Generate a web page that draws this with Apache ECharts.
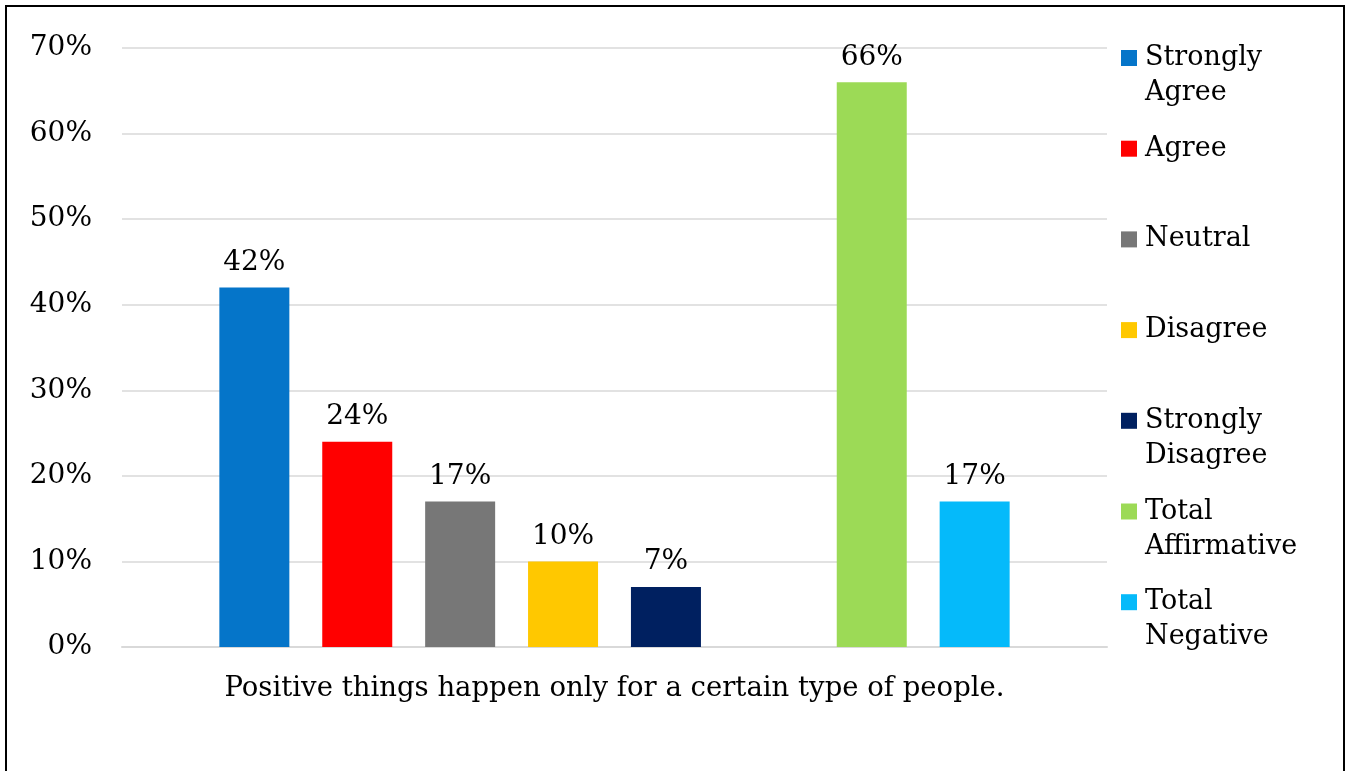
<!DOCTYPE html>
<html>
<head>
<meta charset="utf-8">
<style>
    html, body { margin: 0; padding: 0; overflow: hidden; background: #fff; }
</style>
</head>
<body>
<div id="bar" style="width:1347px; height:771px;"></div>
<script src="https://cdn.jsdelivr.net/npm/echarts@6/dist/echarts.min.js"></script>
<script>
    // data
    var question = ['Positive things happen only for a certain type of people.'];
    var seriesNames = ['Strongly Agree', 'Agree', 'Neutral', 'Disagree', 'Strongly Disagree', '', 'Total Affirmative', 'Total Negative'];
    var seriesValues = [42, 24, 17, 10, 7, null, 66, 17];
    var seriesColors = ['#0575c9', '#ff0000', '#777777', '#ffc800', '#002060', 'transparent', '#9cda56', '#05bafa'];
    var yTicks = [0, 10, 20, 30, 40, 50, 60, 70];

    var FONT = 'DejaVu Serif';
    var chart = echarts.init(document.getElementById('bar'), null, {renderer: 'canvas'});

    var series = seriesNames.map(function (name, i) {
        return {
            name: name || 'gap',
            type: 'bar',
            data: [seriesValues[i]],
            barWidth: 70,
            barGap: '47%',
            itemStyle: {color: seriesColors[i]},
            label: {
                show: seriesValues[i] != null,
                position: 'top',
                distance: 11,
                formatter: '{c}%',
                fontFamily: FONT,
                fontSize: 28,
                color: '#000'
            }
        };
    });

    // legend: one per item so the first lines are evenly spaced
    var rich = {
        t: {fontFamily: FONT, fontSize: 27, color: '#000', lineHeight: 35},
        gap: {width: 8, height: 16},
        sp: {width: 24, height: 16}
    };
    seriesColors.forEach(function (c, i) {
        rich['sq' + i] = {width: 16, height: 16, backgroundColor: c};
    });
    var legends = [];
    var k = 0;
    seriesNames.forEach(function (name, i) {
        if (!name) return;
        legends.push({
            data: [name],
            orient: 'vertical',
            left: 1116,
            top: 62 + k * 90.7 - 17.5,
            padding: 0,
            icon: 'none',
            itemWidth: 0,
            itemHeight: 16,
            selectedMode: false,
            textStyle: {rich: rich},
            formatter: function (n) {
                var parts = n.split(' ');
                var s = '{sq' + i + '|}{gap|}{t|' + parts[0] + '}';
                if (parts.length > 1) s += '\n{sp|}{t|' + parts.slice(1).join(' ') + '}';
                return s;
            }
        });
        k++;
    });

    chart.setOption({
        backgroundColor: '#fff',
        animation: false,
        grid: {left: 122, right: 240, top: 48, bottom: 124},
        legend: legends,
        xAxis: {
            type: 'category',
            data: question,
            axisTick: {show: false},
            axisLine: {lineStyle: {color: '#d9d9d9', width: 2}},
            axisLabel: {fontFamily: FONT, fontSize: 27.5, color: '#000', margin: 28}
        },
        yAxis: {
            type: 'value',
            min: yTicks[0],
            max: yTicks[yTicks.length - 1],
            interval: yTicks[1] - yTicks[0],
            axisLine: {show: false},
            axisTick: {show: false},
            splitLine: {lineStyle: {color: '#d9d9d9', width: 1.5}},
            axisLabel: {fontFamily: FONT, fontSize: 28, color: '#000', margin: 30, formatter: '{value}%'}
        },
        graphic: [{
            type: 'rect',
            shape: {x: 6, y: 6, width: 1338, height: 800},
            style: {fill: 'none', stroke: '#000', lineWidth: 2},
            silent: true
        }],
        series: series
    });
</script>
</body>
</html>
